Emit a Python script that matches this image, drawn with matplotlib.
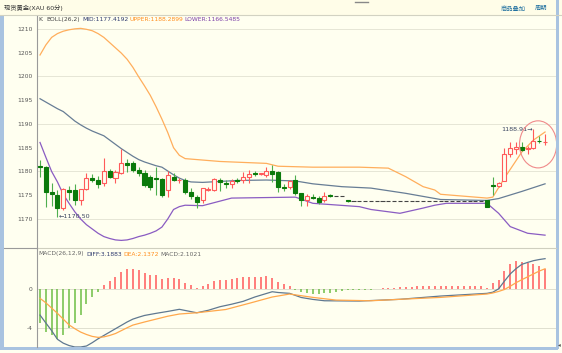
import matplotlib
matplotlib.use('Agg')
import matplotlib.pyplot as plt
from matplotlib.patches import Rectangle, Ellipse

plt.rcParams['font.family'] = ['DejaVu Sans', 'Noto Sans CJK SC']

# ---- price bars (60 min), index 0..87 ----
opens = [1181.2, 1181.0, 1175.6, 1175.0, 1172.3, 1176.1, 1176.1, 1174.0, 1176.3, 1178.6,
         1178.1, 1177.5, 1180.2, 1178.6, 1179.6, 1181.7, 1181.7, 1180.3, 1179.6, 1178.9,
         1178.7, 1178.4, 1176.1, 1178.9, 1178.1, 1178.2, 1175.7, 1174.7, 1174.0, 1176.2,
         1176.1, 1178.2, 1177.6, 1177.3, 1178.1, 1178.1, 1178.8, 1179.6, 1179.4, 1179.3,
         1180.1, 1179.8, 1176.8, 1176.7, 1178.1, 1175.4, 1173.9, 1174.7, 1174.5, 1173.9,
         1175.0, 1174.9, 1174.9, 1174.0, 1173.8, 1173.8, 1173.8, 1173.8, 1173.8, 1173.8,
         1173.8, 1173.8, 1173.8, 1173.8, 1173.8, 1173.8, 1173.8, 1173.8, 1173.8, 1173.8,
         1173.8, 1173.8, 1173.8, 1173.8, 1173.8, 1173.8, 1173.8, 1174.0, 1177.2, 1176.9,
         1178.0, 1183.6, 1184.7, 1185.2, 1184.7, 1184.9, 1186.5, 1186.2]
highs = [1182.4, 1181.2, 1177.5, 1176.2, 1176.5, 1177.0, 1177.4, 1176.4, 1179.6, 1179.5,
         1179.0, 1182.8, 1180.5, 1180.4, 1184.7, 1182.6, 1182.3, 1181.0, 1180.3, 1179.3,
         1181.0, 1178.6, 1180.0, 1179.6, 1178.6, 1178.6, 1176.6, 1175.1, 1176.6, 1176.8,
         1178.6, 1178.6, 1178.2, 1178.5, 1178.7, 1179.8, 1180.3, 1180.2, 1179.7, 1180.9,
         1181.4, 1180.1, 1177.4, 1178.2, 1179.3, 1175.4, 1175.2, 1175.2, 1174.8, 1175.6,
         1175.2, 1174.9, 1174.9, 1174.1, 1173.8, 1173.8, 1173.8, 1173.8, 1173.8, 1173.8,
         1173.8, 1173.8, 1173.8, 1173.8, 1173.8, 1173.8, 1173.8, 1173.8, 1173.8, 1173.8,
         1173.8, 1173.8, 1173.8, 1173.8, 1173.8, 1173.8, 1173.8, 1174.0, 1178.9, 1177.8,
         1185.0, 1186.1, 1186.1, 1186.1, 1185.3, 1188.91, 1187.5, 1187.8]
lows = [1178.9, 1172.5, 1172.7, 1170.5, 1171.9, 1174.0, 1172.9, 1172.9, 1176.1, 1177.8,
        1176.6, 1176.9, 1178.6, 1177.5, 1179.4, 1179.9, 1179.9, 1179.0, 1176.8, 1176.2,
        1175.0, 1174.6, 1174.6, 1177.9, 1177.5, 1175.2, 1174.2, 1172.3, 1173.3, 1175.8,
        1175.8, 1175.8, 1176.6, 1176.5, 1177.5, 1177.5, 1177.5, 1179.0, 1179.3, 1178.9,
        1177.8, 1175.7, 1175.9, 1176.3, 1175.0, 1172.7, 1172.8, 1174.2, 1173.2, 1173.5,
        1174.7, 1174.9, 1174.9, 1173.6, 1173.8, 1173.8, 1173.8, 1173.8, 1173.8, 1173.8,
        1173.8, 1173.8, 1173.8, 1173.8, 1173.8, 1173.8, 1173.8, 1173.8, 1173.8, 1173.8,
        1173.8, 1173.8, 1173.8, 1173.8, 1173.8, 1173.8, 1173.8, 1172.6, 1175.0, 1176.7,
        1177.9, 1183.0, 1183.6, 1184.3, 1183.6, 1184.7, 1186.0, 1185.5]
closes = [1181.0, 1175.6, 1175.3, 1172.4, 1176.3, 1175.6, 1174.0, 1176.3, 1178.6, 1178.2,
          1177.3, 1180.0, 1178.8, 1179.8, 1181.7, 1181.4, 1180.3, 1179.6, 1177.2, 1176.8,
          1178.4, 1175.0, 1179.3, 1178.2, 1178.3, 1175.7, 1174.8, 1173.6, 1176.5, 1176.4,
          1178.4, 1177.7, 1177.3, 1178.0, 1177.9, 1178.9, 1179.5, 1179.4, 1179.6, 1180.1,
          1179.4, 1176.8, 1176.6, 1177.9, 1175.4, 1174.1, 1174.8, 1174.4, 1173.6, 1174.8,
          1174.9, 1174.9, 1174.9, 1173.8, 1173.8, 1173.8, 1173.8, 1173.8, 1173.8, 1173.8,
          1173.8, 1173.8, 1173.8, 1173.8, 1173.8, 1173.8, 1173.8, 1173.8, 1173.8, 1173.8,
          1173.8, 1173.8, 1173.8, 1173.8, 1173.8, 1173.8, 1173.8, 1172.6, 1176.9, 1177.6,
          1183.6, 1184.9, 1185.2, 1184.5, 1184.9, 1186.5, 1186.4, 1186.3]

# ---- BOLL(26,2) ----
upper_idx = [0, 1, 2, 3, 4, 5, 6, 7, 8, 9, 10, 11, 12, 13, 14, 15, 16, 17, 18, 19,
             20, 21, 22, 23, 24, 25, 31, 39, 41, 47, 55, 60, 63, 66, 68, 69, 77, 78,
             80, 83, 85, 87]
upper = [1204.5, 1206.6, 1208.2, 1209.0, 1209.5, 1209.8, 1210.0, 1210.1, 1209.9, 1209.6,
         1209.0, 1208.2, 1207.1, 1206.0, 1204.9, 1203.6, 1201.9, 1199.9, 1198.0, 1196.0,
         1193.6, 1191.0, 1188.2, 1185.0, 1183.4, 1182.7, 1182.1, 1181.7, 1181.1, 1180.9,
         1180.9, 1180.7, 1178.9, 1176.8, 1176.1, 1175.2, 1174.4, 1174.6, 1178.6, 1184.1,
         1186.6, 1188.3]
mid_idx = [0, 1, 2, 3, 4, 5, 6, 7, 8, 9, 10, 11, 12, 13, 14, 15, 16, 17, 18, 19, 20,
           21, 22, 23, 24, 25, 26, 28, 31, 34, 39, 44, 47, 52, 57, 63, 69, 77, 79, 83, 87]
mid = [1195.3, 1194.6, 1193.9, 1193.2, 1192.6, 1191.6, 1190.6, 1189.8, 1189.1, 1188.5,
       1188.0, 1187.5, 1186.6, 1185.7, 1184.8, 1184.0, 1183.2, 1182.5, 1182.0, 1181.6,
       1181.2, 1180.9, 1180.1, 1179.3, 1178.6, 1178.1, 1177.8, 1177.7, 1177.9, 1178.1,
       1178.2, 1178.0, 1177.4, 1176.8, 1176.5, 1175.4, 1174.1, 1173.9, 1174.3, 1175.8,
       1177.4]
lower_idx = [0, 1, 2, 3, 4, 5, 6, 7, 8, 9, 10, 11, 12, 13, 14, 15, 16, 17, 18, 19, 20,
             21, 22, 23, 24, 25, 28, 33, 44, 47, 55, 57, 62, 66, 68, 70, 77, 79, 81, 84, 87]
lower = [1186.1, 1183.0, 1180.0, 1177.8, 1175.2, 1173.3, 1171.5, 1170.0, 1168.8, 1167.9,
         1167.0, 1166.3, 1165.9, 1165.6, 1165.5, 1165.6, 1165.9, 1166.3, 1166.6, 1167.0,
         1167.5, 1168.3, 1170.0, 1172.0, 1172.6, 1172.9, 1172.8, 1174.4, 1174.6, 1173.3,
         1172.6, 1172.0, 1171.2, 1172.3, 1172.9, 1173.3, 1173.3, 1171.2, 1168.4, 1167.0,
         1166.6]

# ---- MACD(26,12,9) ----
macd_hist = [-3.55, -4.4, -4.76, -5.2, -4.76, -4.06, -3.55, -2.68, -1.53, -0.84,
             -0.24, 0.45, 0.86, 1.31, 1.8, 2.08, 2.08, 2.0, 1.67, 1.49,
             1.49, 1.04, 1.21, 1.14, 1.08, 0.69, 0.45, 0.17, 0.34, 0.52,
             0.86, 0.97, 0.97, 1.04, 1.21, 1.24, 1.31, 1.31, 1.31, 1.38,
             1.21, 0.76, 0.52, 0.38, -0.05, -0.31, -0.41, -0.49, -0.52, -0.41,
             -0.35, -0.24, -0.14, -0.12, -0.08, -0.06, -0.04, -0.03, 0.08, 0.1,
             0.12, 0.17, 0.2, 0.24, 0.27, 0.31, 0.31, 0.31, 0.38, 0.38,
             0.38, 0.34, 0.31, 0.31, 0.31, 0.31, 0.31, 0.1, 0.69, 0.97,
             1.9, 2.6, 2.95, 2.84, 2.7, 2.64, 2.43, 2.15]
diff_idx = [0, 1, 2, 3, 4, 5, 6, 7, 8, 9, 10, 11, 12, 13, 14, 15, 16, 17, 18, 20, 22,
            24, 27, 29, 31, 33, 35, 37, 40, 41, 43, 45, 47, 49, 55, 62, 69, 77, 78, 79,
            80, 81, 82, 83, 84, 85, 86, 87]
diff = [-2.68, -3.5, -4.3, -5.2, -5.6, -5.85, -6.0, -6.0, -5.9, -5.55, -5.15, -4.8, -4.45,
        -4.1, -3.75, -3.4, -3.1, -2.9, -2.72, -2.5, -2.3, -2.08, -2.44, -2.18, -1.81,
        -1.55, -1.25, -0.8, -0.25, -0.33, -0.42, -0.85, -1.05, -1.19, -1.22, -1.04, -0.7,
        -0.42, -0.3, 0.05, 0.85, 1.6, 2.15, 2.6, 2.8, 2.98, 3.1, 3.19]
dea_idx = [0, 1, 2, 3, 4, 5, 6, 7, 8, 9, 10, 11, 12, 13, 14, 15, 16, 18, 20, 22, 24, 27,
           32, 36, 40, 43, 47, 51, 57, 62, 69, 77, 78, 79, 80, 81, 82, 83, 84, 85, 86, 87]
dea = [-0.94, -1.4, -1.95, -2.5, -3.1, -3.7, -4.1, -4.45, -4.7, -4.9, -5.0, -4.95, -4.8,
       -4.6, -4.3, -4.0, -3.72, -3.4, -3.1, -2.8, -2.57, -2.44, -2.1, -1.46, -0.8, -0.49,
       -0.84, -1.12, -1.19, -1.04, -0.84, -0.49, -0.38, -0.22, -0.02, 0.32, 0.69, 1.0,
       1.3, 1.6, 1.9, 2.14]

price_ticks = [1170, 1175, 1180, 1185, 1190, 1195, 1200, 1205, 1210]
price_grid = [1170, 1180, 1190, 1200, 1210]
macd_ticks = [-4, 0]

RED = '#FF5A5A'
GREEN = '#0B7A0B'
GREEN_WICK = '#4FAF4F'
BG = '#FFFFF0'
FS = 4.3

W, H = 562, 353


def frame(l, t, r, b):
    return [l / W, 1 - b / H, (r - l) / W, (b - t) / H]


fig = plt.figure(figsize=(W / 100, H / 100), dpi=100)
fig.patch.set_facecolor(BG)

# decorations in pixel space
bg = fig.add_axes([0, 0, 1, 1])
bg.set_xlim(0, W)
bg.set_ylim(H, 0)
bg.axis('off')
bg.add_patch(Rectangle((0, 0), W, 15, fc='#FFFDE8', ec='none'))
bg.plot([0, W], [15, 15], color='#D2D2C2', lw=0.8)
bg.plot([355, 368], [1.5, 1.5], color='#888888', lw=1)
bg.text(4, 8, '现货黄金(XAU 60分)', fontsize=4.5, color='#333333', va='center')
bg.text(501, 8.5, '商品叠加', fontsize=4.5, color='#1F6F9F', va='center')
bg.text(535, 8.5, '周期', fontsize=4.5, color='#1F6F9F', va='center')
bg.add_patch(Rectangle((0, 15), 3.5, 334, fc='#A9C3E0', ec='none'))
bg.add_patch(Rectangle((555.5, 0), 3, 349, fc='#A9C3E0', ec='none'))
bg.add_patch(Rectangle((0, 346.5), 558, 3, fc='#A9C3E0', ec='none'))
bg.plot([4, 37], [248, 248], color='#9A9A9A', lw=0.8)
bg.text(561, 345, '◂', fontsize=4, color='#555555', ha='right', va='center')

# legend rows
y1 = 19.5
bg.text(38.5, y1, 'K', fontsize=FS, color='#444444', va='center')
bg.text(46.5, y1, 'BOLL(26,2)', fontsize=FS, color='#444444', va='center')
bg.text(82.5, y1, 'MID:1177.4192', fontsize=FS, color='#2E3A6E', va='center')
bg.text(130, y1, 'UPPER:1188.2899', fontsize=FS, color='#FF8C1A', va='center')
bg.text(184, y1, 'LOWER:1166.5485', fontsize=FS, color='#7B3FA8', va='center')
y2 = 254
bg.text(38.5, y2, 'MACD(26,12,9)', fontsize=FS, color='#666666', va='center')
bg.text(86, y2, 'DIFF:3.1883', fontsize=FS, color='#2E3A6E', va='center')
bg.text(123.5, y2, 'DEA:2.1372', fontsize=FS, color='#FF8C1A', va='center')
bg.text(160, y2, 'MACD:2.1021', fontsize=FS, color='#666666', va='center')

xlim = (-0.52, 88.8)

# ---- price panel ----
ax = fig.add_axes(frame(37, 16, 555.5, 248))
ax.set_facecolor('none')
ax.set_xlim(*xlim)
ax.set_ylim(1163.9, 1212.7)
for g in price_grid:
    ax.axhline(g, color='#E6E6D6', lw=0.7, zorder=0)

bw = 0.7
for i in range(len(opens)):
    o, h, l, c = opens[i], highs[i], lows[i], closes[i]
    if h == l and o == c:
        ax.hlines(c, i - bw / 2, i + bw / 2, color='#444444', lw=0.8, zorder=3)
        continue
    top, bot = max(o, c), min(o, c)
    if c > o:
        ax.vlines(i, top, h, color=RED, lw=0.8, zorder=2)
        ax.vlines(i, l, bot, color=RED, lw=0.8, zorder=2)
        ax.add_patch(Rectangle((i - bw / 2, bot), bw, max(top - bot, 0.08),
                               fc=BG, ec=RED, lw=0.8, zorder=3))
    elif c < o:
        ax.vlines(i, l, h, color=GREEN_WICK, lw=0.8, zorder=2)
        ax.add_patch(Rectangle((i - bw / 2, bot), bw, max(top - bot, 0.08),
                               fc=GREEN, ec=GREEN, lw=0.8, zorder=3))
    else:
        ax.vlines(i, l, h, color=RED, lw=0.8, zorder=2)
        ax.hlines(c, i - bw / 2, i + bw / 2, color=RED, lw=0.8, zorder=3)

ax.plot(upper_idx, upper, color='#FFAE5C', lw=0.9, zorder=1)
ax.plot(mid_idx, mid, color='#677D95', lw=0.9, zorder=1)
ax.plot(lower_idx, lower, color='#8A5CC2', lw=0.9, zorder=1)

lo_i = lows.index(min(lows[:60]))
ax.text(lo_i + 0.15, lows[lo_i], '←1170.50', fontsize=FS + 0.3, color='#3A4560',
        va='center', ha='left')
hi_i = highs.index(max(highs))
ax.text(hi_i - 0.15, highs[hi_i], '1188.91→', fontsize=FS + 0.3, color='#3A4560',
        va='center', ha='right')
ax.add_patch(Ellipse((85.8, 1185.7), 6.4, 9.9, fc='none', ec='#F08A8A', lw=0.8, zorder=4))

ax.set_yticks(price_ticks)
ax.set_yticklabels([str(t) for t in price_ticks])
ax.set_xticks([])
ax.tick_params(axis='y', length=0, pad=3, labelsize=FS, labelcolor='#555555')
for s in ['top', 'right']:
    ax.spines[s].set_visible(False)
ax.spines['left'].set_color('#9A9A9A')
ax.spines['left'].set_linewidth(0.8)
ax.spines['bottom'].set_color('#CFCFBF')
ax.spines['bottom'].set_linewidth(0.8)

# ---- MACD panel ----
mx = fig.add_axes(frame(37, 248, 555.5, 346.5))
mx.set_facecolor('none')
mx.set_xlim(*xlim)
mx.set_ylim(-5.95, 4.3)
for g in macd_ticks:
    mx.axhline(g, color='#E0E0D0', lw=0.7, zorder=0)
cols = [RED if v > 0 else '#6DBE45' for v in macd_hist]
mx.vlines(range(len(macd_hist)), 0, macd_hist, colors=cols, lw=1.1, zorder=2)
mx.plot(diff_idx, diff, color='#5F7890', lw=0.9, zorder=3)
mx.plot(dea_idx, dea, color='#FFA84C', lw=0.9, zorder=3)
mx.set_yticks(macd_ticks)
mx.set_yticklabels(['-4', '0'])
mx.set_xticks([])
mx.tick_params(axis='y', length=0, pad=3, labelsize=FS, labelcolor='#555555')
for s in ['top', 'right', 'bottom']:
    mx.spines[s].set_visible(False)
mx.spines['left'].set_color('#9A9A9A')
mx.spines['left'].set_linewidth(0.8)

fig.savefig('out.png', dpi=100, facecolor=fig.get_facecolor())
